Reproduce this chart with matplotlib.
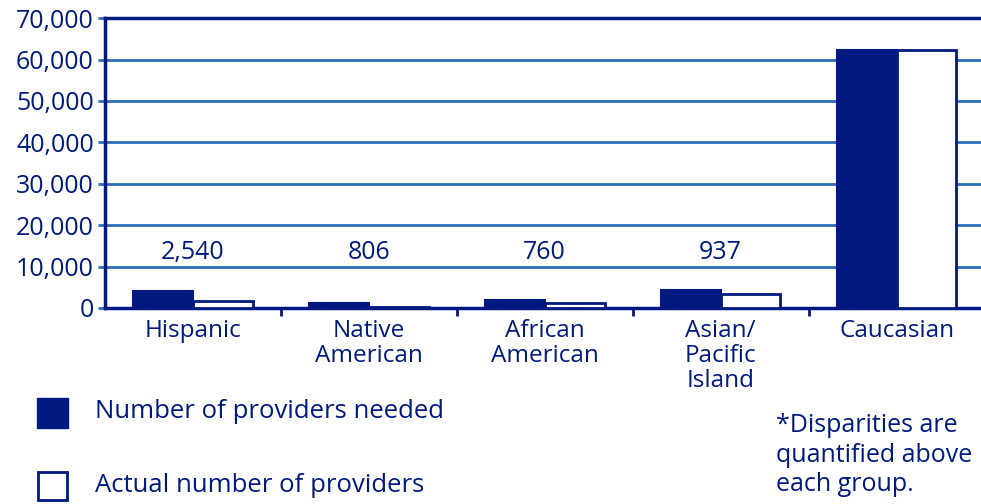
import matplotlib.pyplot as plt
import numpy as np
from matplotlib.patches import Rectangle

groups = ['Hispanic', 'Native\nAmerican', 'African\nAmerican', 'Asian/\nPacific\nIsland', 'Caucasian']
needed = [4200, 1100, 1900, 4250, 62300]
actual = [1660, 294, 1140, 3313, 62300]
gap_labels = ['2,540', '806', '760', '937', '']

navy = '#001a80'
grid_blue = '#2f6db8'

plt.rcParams['font.family'] = ['Open Sans', 'DejaVu Sans']

fig = plt.figure(figsize=(9.81, 5.04), dpi=100)
ax = fig.add_axes([0.107, 0.389, 0.893, 0.575])

x = np.arange(len(groups))
w = 0.34
ax.bar(x - w / 2, needed, w, color=navy, edgecolor=navy, linewidth=1.5, zorder=3)
ax.bar(x + w / 2, actual, w, color='white', edgecolor=navy, linewidth=2, zorder=3)

for i, lab in enumerate(gap_labels):
    if lab:
        ax.text(x[i], 13500, lab, ha='center', va='center', fontsize=18, color=navy)

ax.set_xlim(-0.5, 4.48)
ax.set_ylim(0, 70000)
ax.set_yticks(range(0, 70001, 10000))
ax.set_yticklabels([f'{v:,}' for v in range(0, 70001, 10000)], fontsize=18, color=navy)
ax.yaxis.grid(True, color=grid_blue, linewidth=2, zorder=0)
ax.set_axisbelow(True)

# group boundary ticks, category names centred under the bars
ax.set_xticks([0.5, 1.5, 2.5, 3.5])
ax.set_xticklabels([])
ax.tick_params(axis='x', length=6, width=2, color=navy, direction='out')
ax.tick_params(axis='y', length=5, width=2, color=grid_blue, pad=3)
for i, g in enumerate(groups):
    ax.text(x[i], -2600, g, ha='center', va='top', fontsize=17.5, color=navy,
            linespacing=1.07)

for s in ['left', 'bottom', 'top']:
    ax.spines[s].set_color(navy)
    ax.spines[s].set_linewidth(2.5)
ax.spines['right'].set_visible(False)

# legend drawn by hand in figure coordinates
fig.patches.append(Rectangle((37 / 981, 1 - 428 / 504), 31 / 981, 30 / 504,
                             transform=fig.transFigure, facecolor=navy, edgecolor=navy))
fig.patches.append(Rectangle((38 / 981, 1 - 500 / 504), 29 / 981, 28 / 504,
                             transform=fig.transFigure, facecolor='white', edgecolor=navy, linewidth=2))
fig.text(95 / 981, 1 - 412 / 504, 'Number of providers needed', fontsize=18.5, color=navy,
         va='center')
fig.text(95 / 981, 1 - 486 / 504, 'Actual number of providers', fontsize=18.5, color=navy,
         va='center')
fig.text(776 / 981, 1 - 455 / 504, '*Disparities are\nquantified above\neach group.', fontsize=18,
         color=navy, va='center', linespacing=1.25)

fig.savefig('out.png', dpi=100)
